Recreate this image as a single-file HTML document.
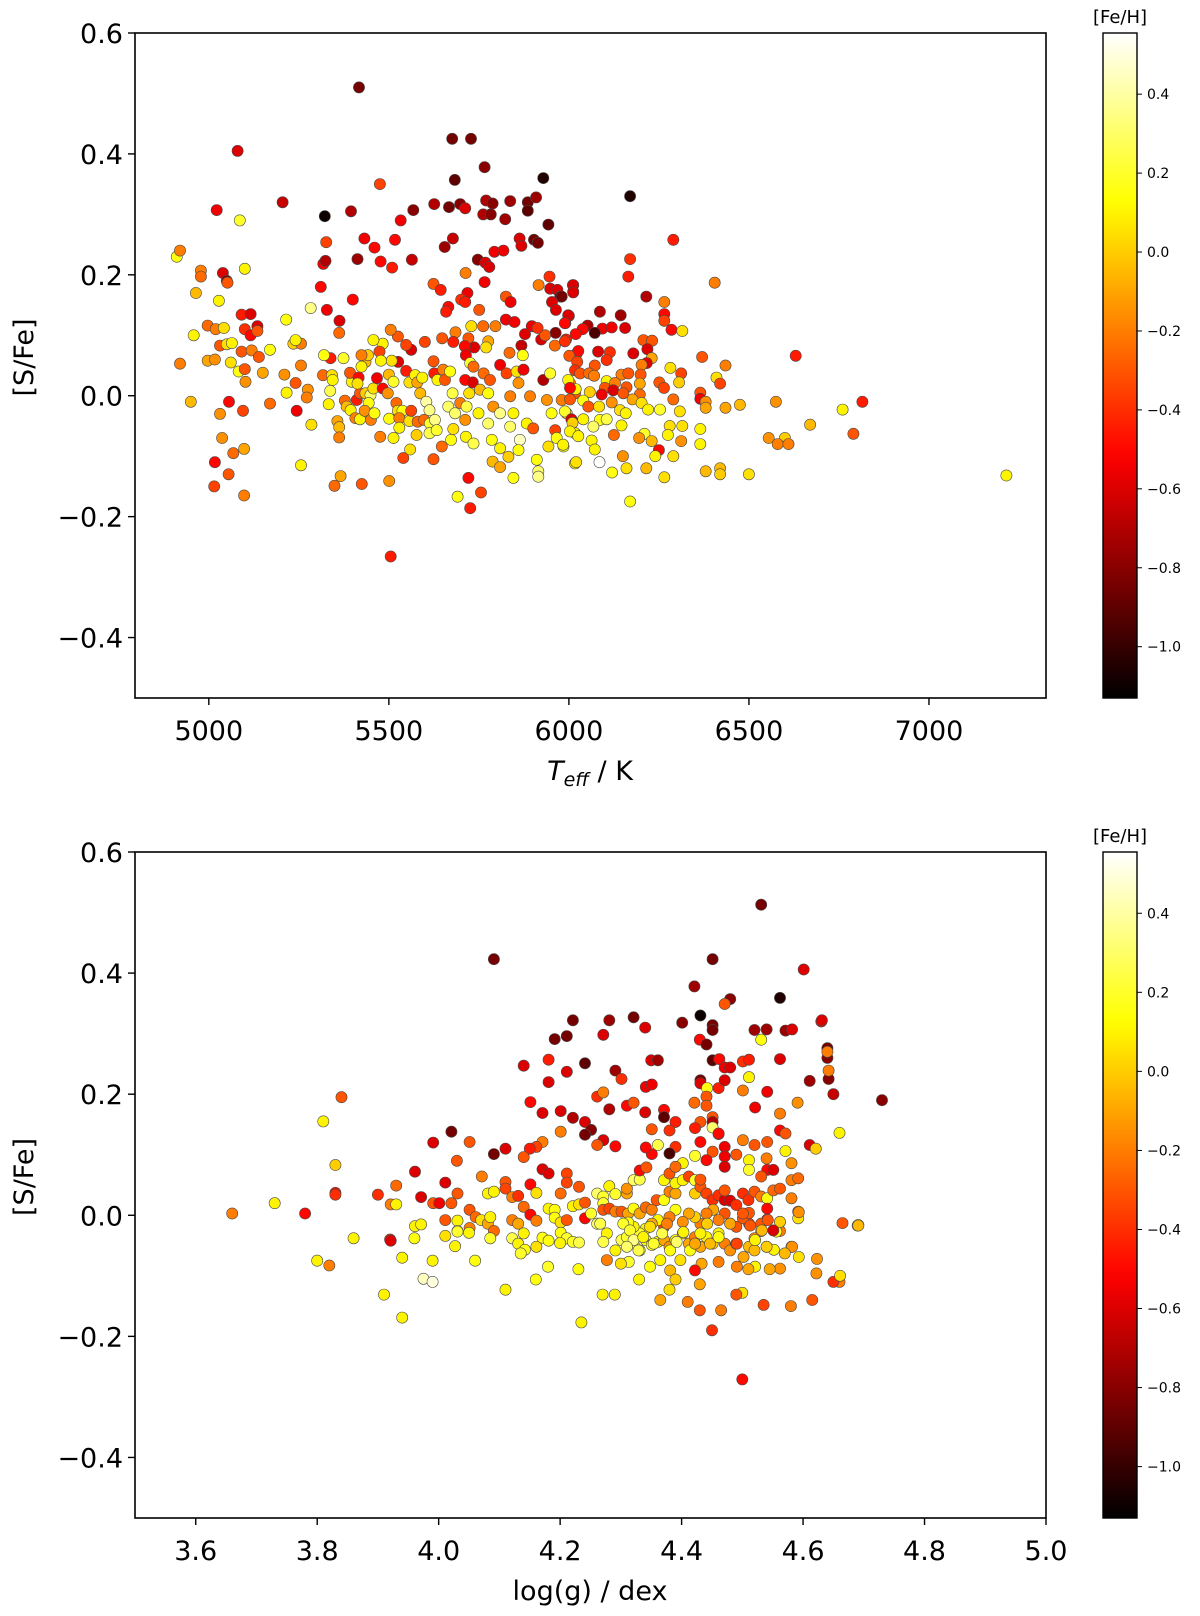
<!DOCTYPE html>
<html><head><meta charset="utf-8">
<style>
html,body{margin:0;padding:0;background:#fff;}
svg{display:block;font-family:"DejaVu Sans","Liberation Sans",sans-serif;}
</style></head>
<body>
<svg id="fig" width="1200" height="1616" viewBox="0 0 1200 1616" xmlns="http://www.w3.org/2000/svg"></svg>
<script>
// ---- data ----
const topXTicks = [5000, 5500, 6000, 6500, 7000];
const botXTicks = [3.6, 3.8, 4.0, 4.2, 4.4, 4.6, 4.8, 5.0];
const yTicks = [0.6, 0.4, 0.2, 0.0, -0.2, -0.4];
const cbTicks = [0.4, 0.2, 0.0, -0.2, -0.4, -0.6, -0.8, -1.0];
// [Teff, [S/Fe], [Fe/H]]
const topPoints = [
[4911,0.23,0.15],[4920,0.24,-0.2],[4978,0.207,-0.2],[4978,0.197,-0.25],[5039,0.203,-0.6],[5050,0.19,-0.8],[5052,0.187,-0.3],[5100,0.21,0.1],[5022,0.307,-0.55],[5086,0.29,0.2],[5080,0.405,-0.6],[5205,0.32,-0.65],[4964,0.17,-0.05],[5028,0.157,0.1],[4958,0.1,0.1],[4920,0.053,-0.2],[4950,-0.01,-0.05],[4997,0.116,-0.25],[5019,0.11,-0.2],[5042,0.112,0.05],[5091,0.134,-0.45],[5116,0.135,-0.6],[5135,0.115,-0.6],[5100,0.11,-0.4],[5116,0.1,-0.5],[5135,0.107,-0.3],[5031,0.083,-0.3],[5050,0.085,0.05],[5064,0.087,0.1],[5091,0.073,-0.3],[5119,0.075,-0.2],[5139,0.064,-0.3],[5170,0.076,0.15],[4997,0.058,-0.1],[5017,0.06,-0.15],[5061,0.055,0.05],[5083,0.04,0.15],[5100,0.044,-0.3],[5150,0.038,-0.1],[5102,0.023,-0.15],[5031,-0.03,-0.15],[5056,-0.01,-0.5],[5095,-0.025,-0.35],[5170,-0.013,-0.25],[5037,-0.07,-0.15],[5068,-0.095,-0.25],[5098,-0.088,-0.1],[5017,-0.11,-0.5],[5055,-0.13,-0.3],[5015,-0.15,-0.35],[5098,-0.165,-0.2],[5215,0.126,0.15],[5235,0.086,0.0],[5256,0.086,-0.2],[5241,0.092,0.1],[5210,0.035,-0.15],[5241,0.021,-0.3],[5256,0.05,-0.2],[5216,0.005,0.1],[5275,0.01,-0.15],[5272,-0.003,-0.2],[5244,-0.025,-0.55],[5285,-0.048,0.05],[5256,-0.115,0.1],[5283,0.145,0.35],[5311,0.18,-0.5],[5328,0.142,-0.55],[5318,0.218,-0.55],[5324,0.223,-0.7],[5326,0.254,-0.35],[5322,0.297,-1.1],[5363,0.124,-0.6],[5362,0.104,-0.25],[5400,0.159,-0.5],[5413,0.226,-0.75],[5432,0.26,-0.55],[5460,0.245,-0.5],[5477,0.222,-0.5],[5509,0.212,-0.45],[5517,0.258,-0.5],[5564,0.225,-0.65],[5533,0.29,-0.55],[5568,0.307,-0.8],[5395,0.305,-0.7],[5475,0.35,-0.35],[5417,0.51,-0.85],[5676,0.425,-0.85],[5728,0.425,-0.85],[5766,0.378,-0.8],[5683,0.357,-0.9],[5626,0.317,-0.7],[5667,0.312,-0.85],[5698,0.317,-0.8],[5712,0.31,-0.6],[5770,0.323,-0.7],[5788,0.318,-0.8],[5837,0.322,-0.75],[5886,0.32,-0.85],[5909,0.328,-0.75],[5929,0.36,-1.05],[5762,0.3,-0.7],[5783,0.3,-0.8],[5823,0.292,-0.75],[5886,0.306,-0.9],[5943,0.283,-0.9],[5655,0.246,-0.75],[5678,0.26,-0.65],[5863,0.26,-0.6],[5868,0.248,-0.6],[5903,0.258,-0.85],[5914,0.253,-0.85],[5747,0.225,-0.8],[5768,0.22,-0.6],[5779,0.213,-0.6],[5793,0.238,-0.55],[5818,0.24,-0.55],[5713,0.203,-0.2],[5766,0.188,-0.55],[5624,0.185,-0.3],[5644,0.175,-0.45],[5718,0.17,-0.55],[5701,0.159,-0.4],[5712,0.155,-0.45],[5751,0.142,-0.3],[5825,0.164,-0.3],[5838,0.155,-0.55],[5665,0.147,-0.5],[5659,0.139,-0.45],[5916,0.183,-0.2],[5946,0.197,-0.4],[5948,0.177,-0.6],[5968,0.175,-0.6],[5976,0.164,-0.85],[5953,0.155,-0.6],[5964,0.142,-0.6],[6011,0.183,-0.55],[6012,0.172,-0.6],[6000,0.132,-0.6],[5990,0.12,-0.35],[5963,0.104,-0.8],[5992,0.093,-0.45],[5825,0.126,-0.55],[5849,0.122,-0.55],[5878,0.102,-0.6],[5897,0.115,-0.55],[5923,0.093,-0.6],[5934,0.1,-0.3],[5913,0.112,-0.4],[5961,0.083,-0.25],[5796,0.115,-0.2],[5762,0.115,-0.25],[5729,0.115,0.05],[5685,0.105,-0.2],[5648,0.095,-0.3],[5679,0.089,-0.45],[5600,0.089,-0.35],[5721,0.095,-0.3],[5776,0.09,-0.1],[5770,0.08,0.05],[5835,0.071,-0.25],[5868,0.083,-0.65],[5872,0.067,0.15],[5737,0.08,-0.6],[5711,0.082,-0.5],[5714,0.067,-0.55],[5562,0.076,-0.6],[5548,0.084,-0.35],[5525,0.098,-0.3],[5505,0.109,-0.2],[5483,0.086,0.1],[5457,0.092,0.1],[5474,0.073,-0.35],[5526,0.056,-0.6],[5508,0.058,0.05],[5478,0.058,0.1],[5435,0.056,-0.05],[5442,0.067,0.0],[5424,0.067,-0.2],[5424,0.048,0.1],[5374,0.062,0.2],
[5338,0.062,-0.45],[5320,0.067,0.15],[5317,0.034,-0.25],[5342,0.034,0.05],[5344,0.026,0.1],[5337,0.008,0.25],[5333,-0.014,0.1],[5357,-0.042,-0.1],[5362,-0.052,-0.05],[5362,-0.069,-0.2],[5378,-0.008,-0.25],[5383,-0.018,-0.05],[5394,-0.024,0.1],[5407,-0.037,-0.2],[5420,-0.039,0.1],[5411,-0.007,-0.45],[5420,0.004,-0.3],[5397,0.023,0.1],[5392,0.038,-0.3],[5416,0.03,-0.5],[5413,0.02,0.05],[5435,0.004,0.0],[5449,0.001,0.3],[5457,0.012,0.05],[5444,-0.012,0.15],[5433,-0.025,-0.15],[5450,-0.04,-0.2],[5460,-0.029,0.15],[5467,0.029,-0.55],[5483,0.012,-0.5],[5497,0.004,-0.15],[5500,0.035,-0.05],[5513,0.023,0.2],[5501,-0.038,0.15],[5521,-0.012,-0.25],[5525,-0.025,0.05],[5538,-0.025,0.15],[5529,-0.037,-0.2],[5513,-0.07,0.1],[5476,-0.068,-0.2],[5529,-0.053,0.1],[5557,-0.042,0.05],[5562,-0.025,-0.35],[5548,0.041,-0.45],[5557,0.022,0.05],[5573,0.034,0.1],[5579,0.022,-0.1],[5593,0.03,0.1],[5587,0.004,-0.05],[5580,-0.043,-0.25],[5577,-0.065,0.0],[5559,-0.089,0.05],[5540,-0.103,-0.35],[5624,-0.105,-0.3],[5604,-0.01,0.4],[5598,-0.04,-0.25],[5613,-0.024,0.35],[5614,-0.046,0.2],[5613,-0.062,0.25],[5628,-0.04,0.35],[5633,-0.057,0.2],[5647,-0.084,-0.25],[5624,0.057,-0.3],[5626,0.037,-0.45],[5635,0.026,0.1],[5651,0.043,-0.2],[5656,0.026,-0.3],[5670,0.04,0.15],[5677,0.004,0.25],[5665,-0.018,0.3],[5684,-0.029,0.3],[5679,-0.055,0.05],[5673,-0.073,0.15],[5698,-0.012,-0.2],[5712,0.026,-0.5],[5726,0.054,0.2],[5733,0.022,-0.6],[5735,0.048,-0.25],[5723,0.004,0.05],[5716,-0.018,0.25],[5712,-0.04,-0.15],[5714,-0.068,0.1],[5735,-0.079,0.25],[5749,-0.029,0.1],[5753,0.01,-0.05],[5763,0.037,-0.25],[5776,0.004,0.15],[5781,0.026,-0.3],[5790,-0.018,-0.15],[5776,-0.046,0.3],[5786,-0.073,0.15],[5809,-0.029,0.35],[5809,-0.087,0.1],[5788,-0.109,-0.05],[5809,-0.118,-0.1],[5809,0.051,-0.55],[5827,0.037,-0.35],[5837,-0.001,-0.2],[5855,0.04,0.05],[5874,0.043,-0.55],[5860,0.021,-0.15],[5846,-0.029,0.1],[5837,-0.051,0.3],[5864,-0.073,0.45],[5860,-0.09,0.15],[5846,-0.136,0.15],[5832,-0.101,0.0],[5892,-0.001,-0.2],[5883,-0.046,0.1],[5901,-0.054,-0.3],[5911,-0.106,0.15],[5915,-0.125,0.3],[5915,-0.134,0.35],[5929,0.026,-0.7],[5939,-0.007,-0.15],[5948,0.037,0.2],[5952,-0.029,0.15],[5962,-0.057,-0.35],[5943,-0.084,0.05],[5966,-0.07,0.15],[5985,-0.084,0.15],[5994,-0.029,0.05],[6003,0.021,-0.2],[6008,-0.04,-0.6],[6017,-0.062,0.1],[6017,0.004,-0.3],[6022,0.07,-0.4],[6017,-0.112,0.1],[5721,-0.136,-0.5],[5691,-0.167,0.15],[5756,-0.16,-0.35],[5726,-0.186,-0.45],[5505,-0.266,-0.45],[5425,-0.146,-0.3],[5501,-0.141,-0.15],[5366,-0.133,-0.1],[5349,-0.149,-0.25],
[6170,0.33,-1.05],[6290,0.258,-0.45],[6170,0.226,-0.4],[6165,0.197,-0.45],[6405,0.187,-0.2],[6215,0.164,-0.7],[6265,0.155,-0.2],[6265,0.135,-0.5],[6265,0.124,-0.35],[6285,0.109,-0.5],[6315,0.107,0.05],[6370,0.064,-0.3],[6435,0.05,-0.2],[6630,0.066,-0.45],[6410,0.03,0.05],[6420,0.02,-0.35],[6365,0.005,-0.3],[6365,-0.005,-0.55],[6380,-0.01,-0.15],[6380,-0.02,-0.1],[6435,-0.02,-0.1],[6475,-0.015,-0.05],[6575,-0.01,-0.15],[6760,-0.023,0.1],[6815,-0.01,-0.45],[6670,-0.048,-0.05],[6790,-0.063,-0.3],[6555,-0.07,-0.15],[6600,-0.07,0.0],[6580,-0.08,-0.2],[6610,-0.08,-0.2],[7215,-0.132,0.1],[6500,-0.13,0.05],[6380,-0.125,-0.05],[6420,-0.12,-0.05],[6420,-0.13,0.0],[6365,-0.055,0.1],[6365,-0.08,0.1],[6315,-0.05,0.05],[6312,-0.075,-0.15],[6290,-0.1,0.05],[6265,-0.135,0.05],[6250,-0.09,-0.5],[6240,-0.1,0.1],[6215,-0.12,-0.05],[6170,-0.175,0.15],[6160,-0.12,0.05],[6120,-0.127,0.15],[6085,-0.11,0.55],[6020,-0.11,0.05],[6150,-0.1,-0.15],[6125,-0.065,-0.25],[6210,-0.063,0.2],[6230,-0.075,-0.05],[6195,-0.07,-0.15],[6280,-0.05,0.05],[6275,-0.065,0.1],
[6012,0.183,-0.6],[6012,0.171,-0.6],[5980,0.164,-0.85],[6086,0.139,-0.7],[6144,0.133,-0.75],[5998,0.133,-0.6],[5989,0.12,-0.5],[6052,0.116,-0.7],[6038,0.11,-0.5],[6093,0.111,-0.55],[6119,0.113,-0.55],[6156,0.112,-0.6],[6072,0.104,-0.95],[6019,0.102,-0.5],[5989,0.09,-0.4],[6207,0.092,-0.3],[6231,0.091,-0.3],[6026,0.074,-0.5],[6081,0.073,-0.6],[6114,0.072,-0.4],[6179,0.07,-0.6],[6218,0.077,-0.6],[6230,0.062,-0.1],[6216,0.054,-0.6],[6001,0.066,-0.3],[6023,0.056,-0.35],[6072,0.05,-0.3],[6105,0.059,-0.4],[6202,0.051,-0.2],[6282,0.046,0.05],[6312,0.037,-0.35],[6017,0.042,-0.4],[6031,0.037,-0.3],[6056,0.037,-0.25],[6070,0.033,-0.2],[6146,0.035,-0.2],[6165,0.037,-0.3],[6199,0.035,-0.3],[6251,0.022,-0.3],[6264,0.013,-0.35],[6306,0.022,0.0],[5998,0.026,0.1],[6019,0.011,0.1],[6003,0.013,-0.5],[6105,0.024,0.1],[6128,0.021,-0.2],[6100,0.013,-0.3],[6091,0.002,-0.55],[6123,0.009,-0.6],[6160,0.014,-0.3],[6151,0.004,-0.3],[6197,0.02,-0.1],[6197,0.002,-0.25],[6177,-0.006,-0.1],[6058,0.006,0.0],[5980,-0.007,-0.2],[6003,-0.006,-0.3],[6040,-0.008,0.15],[6054,-0.018,-0.3],[6084,-0.018,0.05],[6119,-0.011,-0.15],[6142,-0.024,0.05],[6158,-0.029,0.1],[6202,-0.012,0.05],[6220,-0.023,0.1],[6253,-0.023,0.2],[6290,-0.006,-0.25],[6308,-0.026,0.05],[5989,-0.026,0.2],[6007,-0.039,-0.6],[6040,-0.039,0.1],[6010,-0.045,0.0],[6086,-0.04,0.15],[6105,-0.039,0.25],[6068,-0.051,0.3],[6146,-0.049,0.1],[6003,-0.059,0.1],[6026,-0.067,0.1],[6063,-0.074,0.1],[5984,-0.081,0.1],[6072,-0.089,0.1]
];
// [log(g), [S/Fe], [Fe/H]]
const bottomPoints = [
[3.66,0.003,-0.2],[3.73,0.02,0.1],[3.78,0.003,-0.5],[3.80,-0.075,0.1],[3.82,-0.083,-0.2],[3.81,0.155,0.1],[3.84,0.195,-0.3],[3.83,0.083,0.0],[3.83,0.037,-0.5],[3.83,0.034,-0.4],[3.86,-0.038,0.1],[3.90,0.034,-0.4],[3.92,-0.04,-0.4],[3.91,-0.131,0.1],[3.94,-0.169,0.1],[3.94,-0.07,0.1],[3.975,-0.105,0.45],[3.99,-0.11,0.5],[4.73,0.19,-0.8],[4.69,-0.017,0.0],[4.66,0.136,0.1],[4.50,-0.271,-0.5],[4.63,0.32,-0.5],[4.64,0.26,-0.8],[4.64,0.276,-0.85],[4.64,0.27,-0.2],[4.65,0.2,-0.65],[4.665,-0.013,-0.3],[4.66,-0.11,-0.2],[4.65,-0.11,-0.4],[4.615,-0.14,-0.3],[4.58,-0.15,-0.2],[4.535,-0.148,-0.35],[4.50,-0.128,0.05],[4.45,-0.19,-0.4],[4.235,-0.177,0.1],
[4.531,0.513,-0.85],[4.091,0.423,-0.85],[4.451,0.423,-0.85],[4.601,0.406,-0.6],[4.421,0.378,-0.75],[4.48,0.357,-0.8],[4.471,0.349,-0.3],[4.562,0.359,-1.05],[4.431,0.33,-1.1],[4.401,0.318,-0.8],[4.451,0.314,-0.85],[4.451,0.306,-0.85],[4.52,0.306,-0.75],[4.54,0.307,-0.75],[4.571,0.305,-0.75],[4.582,0.307,-0.6],[4.631,0.322,-0.6],[4.531,0.29,0.15],[4.43,0.29,-0.5],[4.441,0.282,-0.85],[4.221,0.322,-0.85],[4.281,0.322,-0.75],[4.321,0.327,-0.85],[4.34,0.31,-0.6],[4.271,0.298,-0.6],[4.211,0.296,-0.85],[4.191,0.291,-0.85],[4.14,0.247,-0.6],[4.181,0.257,-0.45],[4.181,0.22,-0.6],[4.211,0.237,-0.6],[4.241,0.251,-0.9],[4.291,0.239,-0.75],[4.301,0.225,-0.4],[4.35,0.256,-0.6],[4.361,0.256,-0.75],[4.341,0.212,-0.55],[4.351,0.216,-0.55],[4.451,0.256,-0.9],[4.462,0.258,-0.5],[4.471,0.244,-0.55],[4.48,0.244,-0.6],[4.501,0.254,-0.4],[4.511,0.257,-0.45],[4.562,0.258,-0.6],[4.431,0.223,-0.85],[4.431,0.218,-0.6],[4.442,0.21,0.15],[4.461,0.21,-0.45],[4.471,0.223,-0.6],[4.511,0.228,0.1],[4.501,0.206,-0.2],[4.541,0.204,-0.55],[4.611,0.222,-0.75],[4.642,0.225,-0.8],[4.642,0.239,-0.2],[4.261,0.196,-0.4],[4.271,0.203,-0.2],[4.151,0.187,-0.5],[4.171,0.169,-0.6],[4.201,0.172,-0.6],[4.221,0.161,-0.7],[4.241,0.154,-0.6],[4.281,0.175,-0.7],[4.31,0.181,-0.5],[4.321,0.186,-0.3],[4.34,0.17,-0.6],[4.371,0.174,-0.5],[4.371,0.162,-0.9],[4.39,0.154,-0.45],[4.421,0.186,-0.25],[4.441,0.196,-0.3],[4.441,0.181,-0.3],[4.431,0.154,-0.3],[4.451,0.162,-0.3],[4.451,0.154,-0.7],[4.451,0.145,0.3],[4.521,0.178,-0.55],[4.562,0.168,-0.2],[4.591,0.186,-0.15],[4.562,0.14,-0.5],[4.571,0.135,-0.3],[4.461,0.134,-0.55],[4.422,0.144,-0.45],[4.38,0.14,-0.4],[4.351,0.142,-0.3],[4.251,0.141,-0.8],[4.241,0.133,-0.85],[4.271,0.124,-0.6],[4.261,0.116,-0.3],[4.291,0.114,-0.5],[4.201,0.138,-0.2],[4.171,0.121,-0.2],[4.161,0.113,-0.35],[4.15,0.11,-0.45],[4.14,0.096,-0.3],[4.11,0.11,-0.6],[4.091,0.101,-0.85],[4.021,0.138,-0.85],[3.991,0.12,-0.6],[4.051,0.121,-0.3],[4.03,0.09,-0.3],[3.961,0.072,-0.6],[4.011,0.054,-0.6],[4.031,0.036,-0.3],[3.971,0.03,-0.6],[3.991,0.02,-0.3],[4.001,0.02,-0.55],[4.021,0.02,-0.3],[3.93,0.049,-0.25],[3.921,0.018,-0.2],[3.93,0.018,0.1],[3.921,-0.042,-0.6],[3.961,-0.018,0.1],[3.971,-0.015,0.1],[4.011,-0.008,-0.3],[4.031,-0.009,0.1],[4.031,-0.026,0.1],[4.051,0.009,-0.3],[4.061,-0.003,-0.25],[4.07,-0.008,0.05],[4.081,-0.014,-0.1],[4.091,-0.026,-0.25],[4.011,-0.034,0.05],[4.031,-0.027,0.2],[4.051,-0.021,-0.2],[4.071,0.064,-0.2],[4.081,0.036,0.1],[4.091,0.039,0.1],[4.11,0.055,-0.3],[4.11,0.044,-0.35],[4.121,0.03,-0.2],[4.131,0.032,-0.4],[4.151,0.051,-0.5],[4.161,0.037,0.05],[4.171,0.076,-0.6],[4.181,0.069,-0.6],[4.211,0.069,-0.35],[4.211,0.054,-0.35],[4.231,0.047,-0.3],[4.201,0.036,-0.25],[4.14,0.014,-0.25],[4.151,0.001,-0.5],[4.161,-0.009,-0.2],[4.121,-0.008,-0.2],[4.131,-0.014,-0.1],[4.14,-0.03,0.1],[4.121,-0.038,0.25],[4.131,-0.047,0.1],[4.142,-0.057,0.15],[4.161,-0.052,0.05],[4.171,-0.037,0.15],[4.181,-0.042,0.15],[4.181,0.011,0.1],[4.191,0.009,0.15],[4.191,-0.004,0.15],[4.201,-0.012,0.05],[4.211,-0.008,-0.3],[4.201,-0.029,0.15],[4.211,-0.038,0.2],[4.221,-0.044,0.2],[4.231,-0.045,0.25],[4.221,0.015,0.1],[4.231,0.018,0.05],[4.241,0.021,-0.3],[4.241,-0.005,-0.5],[4.251,0.003,0.2],[4.261,-0.014,0.3],[4.261,0.036,0.3],[4.271,0.031,0.2],[4.271,0.02,0.2],[4.281,0.048,0.1],[4.291,0.035,0.2],[4.271,0.009,-0.3],[4.281,0.011,-0.35],[4.291,0.006,-0.2],[4.301,0.006,-0.3],[4.31,0.036,-0.1],[4.31,0.044,-0.15],[4.321,0.058,0.3],[4.331,0.059,0.25],[4.331,0.074,-0.5],[4.342,0.079,-0.3],[4.312,0.003,-0.1],[4.321,0.011,0.15],[4.331,0.003,-0.1],[4.341,0.013,-0.25],[4.351,0.009,-0.2],[4.359,0.025,-0.3],[4.371,0.025,0.15],[4.38,0.039,-0.2],[4.39,0.036,-0.1],[4.371,0.058,0.1],[4.38,0.069,-0.3],[4.39,0.053,0.1],[4.402,0.058,0.1],[4.412,0.064,-0.35],[4.422,0.058,0.2],[4.422,0.036,0.0],[4.431,0.047,-0.3],[4.431,0.059,-0.3],[4.441,0.036,-0.35],[4.451,0.025,-0.4],[4.461,0.033,-0.4],[4.471,0.025,-0.6],[4.471,0.041,-0.3],[4.48,0.024,-0.6],[4.49,0.017,-0.4],[4.501,0.036,-0.4],[4.51,0.025,-0.4],[4.52,0.039,-0.3],[4.531,0.031,-0.2],[4.541,0.028,0.15],[4.551,0.041,-0.25],[4.562,0.044,-0.3],[4.581,0.058,-0.2],[4.592,0.061,-0.25],[4.581,0.028,-0.2],[4.592,0.006,-0.2],[4.562,-0.011,-0.3],[4.562,-0.026,-0.2],[4.541,-0.007,-0.5],[4.541,0.011,-0.5],[4.531,-0.026,-0.4],[4.52,-0.038,-0.15],[4.511,-0.014,-0.4],[4.501,-0.005,-0.3],[4.511,0.004,-0.3],[4.49,-0.019,-0.3],[4.48,-0.014,-0.15],[4.471,0.003,-0.3],[4.461,-0.008,-0.2],[4.452,0.009,-0.1],[4.441,0.003,-0.2],[4.431,-0.014,-0.2],[4.422,-0.003,0.0],[4.412,0.003,-0.1],[4.402,-0.011,-0.15],[4.39,0.009,0.15],[4.38,-0.003,-0.2],[4.371,-0.019,-0.35],[4.361,-0.008,0.1],[4.351,-0.014,-0.1],[4.341,-0.022,0.1],[4.331,-0.03,0.2],[4.321,-0.019,0.1],[4.312,-0.012,0.15],[4.301,-0.041,0.25],[4.31,-0.036,0.2],[4.321,-0.047,0.2],[4.331,-0.058,0.2],[4.341,-0.041,0.15],[4.351,-0.049,0.15],[4.361,-0.044,0.1],[4.371,-0.041,-0.1],[4.38,-0.052,-0.15],[4.39,-0.041,0.1],[4.402,-0.03,0.0],[4.412,-0.047,-0.1],[4.422,-0.036,-0.2],[4.431,-0.052,-0.1],[4.441,-0.036,0.1],[4.451,-0.047,0.0],[4.461,-0.03,0.1],[4.471,-0.047,-0.2],[4.48,-0.058,-0.15],[4.49,-0.047,-0.3],[4.511,-0.052,-0.05],[4.52,-0.058,-0.05],[4.54,-0.052,-0.05],[4.581,-0.052,-0.05],[4.611,0.116,-0.6],[4.621,0.11,0.0],[4.571,0.106,0.1],[4.581,0.086,-0.15],[4.541,0.121,-0.3],[4.52,0.116,-0.3],[4.501,0.124,-0.2],[4.511,0.091,0.1],[4.511,0.075,0.2],[4.54,0.094,-0.2],[4.541,0.075,-0.5],[4.551,0.075,-0.6],[4.531,0.064,-0.3],[4.471,0.113,-0.55],[4.471,0.097,-0.55],[4.471,0.08,-0.6],[4.461,0.135,-0.5],[4.451,0.105,-0.3],[4.431,0.121,-0.5],[4.441,0.091,-0.5],[4.422,0.098,0.2],[4.402,0.086,0.1],[4.39,0.08,-0.25],[4.39,0.113,-0.4],[4.38,0.102,-0.95],[4.361,0.116,0.25],[4.351,0.101,-0.5],[4.341,0.112,-0.5],[4.49,0.1,-0.3],[4.501,0.003,-0.3],[4.531,-0.014,-0.3],[4.556,-0.027,0.15],[4.592,-0.005,0.05],[4.691,-0.016,0.0],[4.552,-0.057,0.1],
[4.266,-0.014,0.25],[4.277,-0.03,0.1],[4.271,-0.044,0.25],[4.291,-0.058,0.1],[4.277,-0.074,-0.2],[4.304,-0.014,0.2],[4.315,-0.025,0.2],[4.321,-0.041,0.35],[4.31,-0.052,0.3],[4.329,-0.058,0.25],[4.313,-0.077,0.2],[4.337,-0.036,0.1],[4.348,-0.019,0.05],[4.354,-0.047,0.2],[4.368,-0.03,0.25],[4.376,-0.014,-0.2],[4.381,-0.058,0.15],[4.392,-0.044,0.3],[4.403,-0.028,0.1],[4.414,-0.058,0.15],[4.422,-0.047,-0.1],[4.431,-0.03,0.1],[4.442,-0.014,0.0],[4.447,-0.047,-0.05],[4.461,-0.036,0.15],[4.433,-0.08,-0.1],[4.398,-0.074,0.05],[4.365,-0.074,0.1],[4.348,-0.085,0.15],[4.381,-0.091,-0.05],[4.422,-0.091,-0.5],[4.461,-0.077,-0.2],[4.48,-0.014,-0.1],[4.491,-0.047,-0.35],[4.502,-0.069,-0.1],[4.491,-0.085,-0.2],[4.521,-0.041,0.1],[4.532,-0.025,-0.05],[4.54,-0.052,0.0],[4.562,-0.011,0.0],[4.551,-0.025,-0.6],[4.582,-0.052,-0.15],[4.593,-0.069,0.05],[4.623,-0.072,-0.15],[4.622,-0.096,-0.15],[4.661,-0.1,0.05],[4.562,-0.088,-0.15],[4.521,-0.085,0.1],[4.691,-0.017,-0.05],[4.593,0.005,-0.15],[4.542,-0.008,-0.3],[4.513,-0.017,-0.3],
[4.027,-0.051,0.1],[4.06,-0.075,0.15],[4.085,-0.038,0.2],[4.11,-0.123,0.1],[4.135,-0.063,0.2],[4.16,-0.106,0.15],[4.18,-0.085,0.2],[4.2,-0.046,0.1],[4.23,-0.089,0.15],[4.27,-0.131,0.1],[4.29,-0.131,0.1],[4.30,-0.08,0.05],[4.33,-0.106,0.1],[4.365,-0.14,-0.1],[4.38,-0.123,0.05],[4.41,-0.143,-0.2],[4.43,-0.114,-0.1],[4.465,-0.157,-0.2],[4.49,-0.131,-0.3],[4.51,-0.089,-0.1],[4.545,-0.089,-0.1],[4.57,-0.063,-0.05],[4.43,-0.157,-0.3],[4.39,-0.106,0.0],[3.99,-0.075,0.1],[3.96,-0.038,0.15],[4.05,-0.029,0.1],[4.085,-0.003,0.1]
];

// ---- layout ----
const NS = "http://www.w3.org/2000/svg";
const svg = document.getElementById("fig");
const AX_L = 135, AX_R = 1046;
const Y_MIN = -0.5, Y_MAX = 0.6;
const CB_MIN = -1.13, CB_MAX = 0.555;
const CB_L = 1103, CB_W = 34;

function el(tag, attrs, parent) {
  const e = document.createElementNS(NS, tag);
  for (const k in attrs) e.setAttribute(k, attrs[k]);
  (parent || svg).appendChild(e);
  return e;
}
function fmt(v, d) {
  const s = Math.abs(v).toFixed(d);
  return (v < -1e-9 ? "\u2212" : "") + s;
}
function hot(v) {
  let t = (v - CB_MIN) / (CB_MAX - CB_MIN);
  t = Math.max(0, Math.min(1, t));
  const r = Math.min(1, t / 0.365);
  const g = Math.max(0, Math.min(1, (t - 0.365) / 0.381));
  const b = Math.max(0, Math.min(1, (t - 0.746) / 0.254));
  return "rgb(" + Math.round(r * 255) + "," + Math.round(g * 255) + "," + Math.round(b * 255) + ")";
}

function panel(opts) {
  const top = opts.top, bot = opts.bot;
  const g = el("g", {});
  
  
  const xs = v => AX_L + (v - opts.xmin) / (opts.xmax - opts.xmin) * (AX_R - AX_L);
  const ys = v => bot - (v - Y_MIN) / (Y_MAX - Y_MIN) * (bot - top);

  // points
  const pg = el("g", {}, g);
  
  
  for (const p of opts.points) {
    const c = el("circle", {cx: xs(p[0]).toFixed(1), cy: ys(p[1]).toFixed(1), r: 5.6, fill: hot(p[2]), stroke: "#4a4a4a", "stroke-width": 0.6}, pg);
    
    
  }

  // frame
  const fr = el("rect", {x: AX_L, y: top, width: AX_R - AX_L, height: bot - top, fill: "none", stroke: "#000", "stroke-width": 1.6}, g);
  
  

  // y ticks
  for (const v of yTicks) {
    const y = ys(v);
    el("line", {x1: AX_L - 7, x2: AX_L, y1: y, y2: y, stroke: "#000", "stroke-width": 1.4}, g);
    const t = el("text", {x: AX_L - 12, y: y + 10, "text-anchor": "end", "font-size": 27, fill: "#000"}, g);
    t.textContent = fmt(v, 1);
    
    
  }
  // x ticks
  for (const v of opts.xticks) {
    const x = xs(v);
    el("line", {x1: x, x2: x, y1: bot, y2: bot + 7, stroke: "#000", "stroke-width": 1.4}, g);
    const t = el("text", {x: x, y: bot + 42, "text-anchor": "middle", "font-size": 27, fill: "#000"}, g);
    t.textContent = opts.xfmt(v);
    
    
  }
  // y label
  const yl = el("text", {x: 0, y: 0, "text-anchor": "middle", "font-size": 27, transform: "translate(33," + ((top + bot) / 2 - 8) + ") rotate(-90)"}, g);
  yl.textContent = "[S/Fe]";
  
  
  // x label
  const xl = el("text", {x: 590, y: bot + 82, "text-anchor": "middle", "font-size": 27}, g);
  
  
  if (opts.teff) {
    const a = el("tspan", {"font-style": "italic"}, xl); a.textContent = "T";
    const b = el("tspan", {"font-style": "italic", "font-size": 19, dy: 6}, xl); b.textContent = "eff";
    const c = el("tspan", {dy: -6}, xl); c.textContent = " / K";
  } else {
    xl.textContent = "log(g) / dex";
  }

  // colorbar
  const gid = "grad-" + opts.name;
  const defs = el("defs", {}, g);
  const lg = el("linearGradient", {id: gid, x1: 0, y1: 1, x2: 0, y2: 0}, defs);
  for (let i = 0; i <= 40; i++) {
    const v = CB_MIN + (CB_MAX - CB_MIN) * i / 40;
    el("stop", {offset: (i / 40).toFixed(3), "stop-color": hot(v)}, lg);
  }
  const cb = el("rect", {x: CB_L, y: top, width: CB_W, height: bot - top, fill: "url(#" + gid + ")", stroke: "#000", "stroke-width": 1.4}, g);
  
  
  const cs = v => bot - (v - CB_MIN) / (CB_MAX - CB_MIN) * (bot - top);
  for (const v of cbTicks) {
    const y = cs(v);
    el("line", {x1: CB_L + CB_W, x2: CB_L + CB_W + 5, y1: y, y2: y, stroke: "#000", "stroke-width": 1}, g);
    const t = el("text", {x: CB_L + CB_W + 10, y: y + 5, "font-size": 14}, g);
    t.textContent = fmt(v, 1);
    
    
  }
  const ct = el("text", {x: CB_L + CB_W / 2, y: top - 10, "text-anchor": "middle", "font-size": 18}, g);
  ct.textContent = "[Fe/H]";
  
  
}

panel({name: "teff-panel", top: 33, bot: 698, xmin: 4795, xmax: 7325, xticks: topXTicks, xfmt: v => String(v), points: topPoints, teff: true});
panel({name: "logg-panel", top: 852, bot: 1518, xmin: 3.5, xmax: 5.0, xticks: botXTicks, xfmt: v => v.toFixed(1), points: bottomPoints, teff: false});
</script>
</body></html>
